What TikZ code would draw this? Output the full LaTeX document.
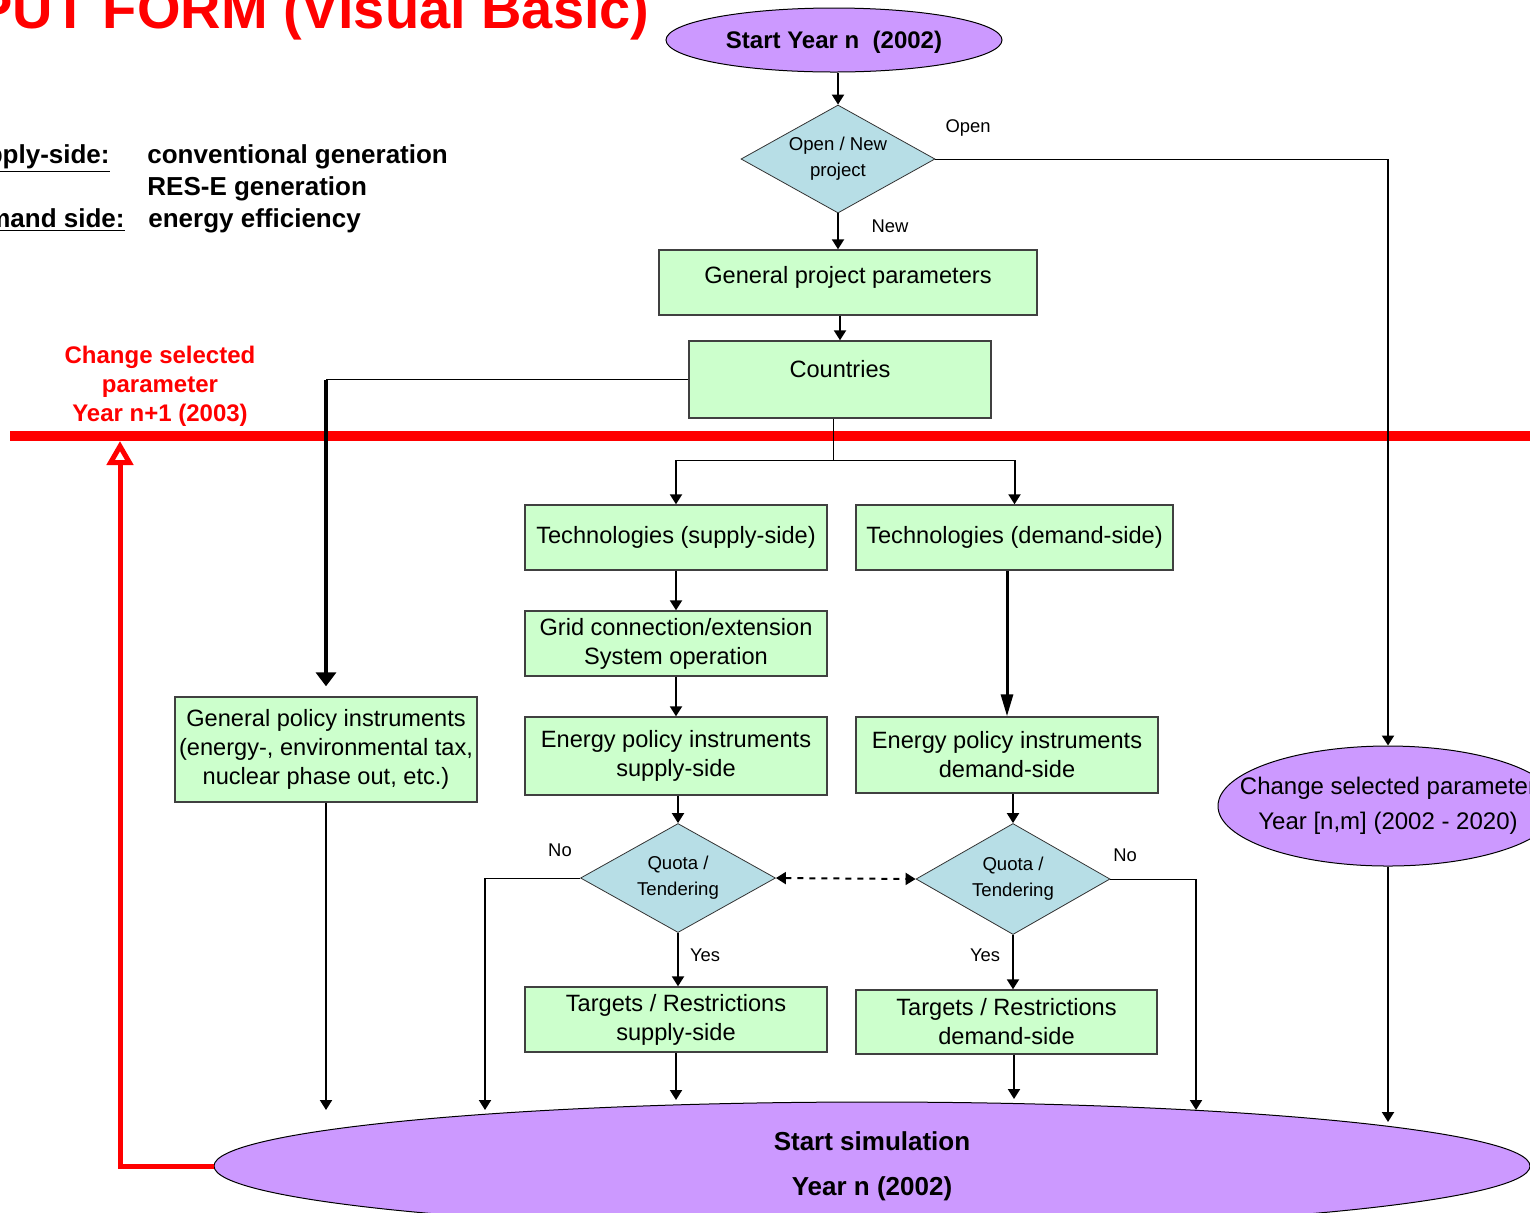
\documentclass[tikz,border=0pt]{standalone}
\usepackage{fontspec}
\setmainfont{Liberation Sans}
\usetikzlibrary{shapes.geometric,arrows.meta}

\definecolor{lila}{RGB}{204,153,255}
\definecolor{verde}{RGB}{204,255,204}
\definecolor{celeste}{RGB}{183,222,230}
\definecolor{rojo}{RGB}{255,0,0}

\tikzset{
  caja/.style={draw=black!75,line width=0.7pt,fill=verde,align=center,inner sep=0pt,
    font=\fontsize{11.8}{14.5}\selectfont},
  rombo/.style={diamond,aspect=1.8,draw=black!80,line width=0.4pt,fill=celeste,align=center,inner sep=0pt,
    font=\fontsize{9.3}{13}\selectfont},
  ovalo/.style={ellipse,draw=black,line width=0.5pt,fill=lila,align=center,inner sep=0pt},
  flecha/.style={line width=1pt,-{Triangle[width=6pt,length=5pt]}},
  flechaGruesa/.style={line width=1.5pt,-{Triangle[width=6pt,length=11pt]}},
  flechaGrande/.style={line width=2pt,-{Triangle[width=10pt,length=7pt]}},
  linea/.style={line width=0.5pt},
  etiq/.style={font=\fontsize{9.2}{11}\selectfont,inner sep=0pt},
  negrita/.style={font=\fontsize{13}{16}\selectfont\bfseries,inner sep=0pt},
}

\begin{document}
\begin{tikzpicture}[x=0.5pt,y=-0.5pt]
\def\esc{0.5pt};%escala de pixeles
\useasboundingbox (0,0) rectangle (1530,1212);

%Titulo y textos
\node[anchor=base east,text=rojo,font=\fontsize{28}{30}\selectfont\bfseries,inner sep=0pt] (titulo) at (650,28) {INPUT FORM (Visual Basic)};
\node[negrita,anchor=base east] (ladoOferta) at (110,163) {\underline{Supply-side:}};
\node[negrita,anchor=base west] (conv) at (147,163) {conventional generation};
\node[negrita,anchor=base west] (rese) at (147,195) {RES-E generation};
\node[negrita,anchor=base east] (ladoDemanda) at (125,227) {\underline{Demand side:}};
\node[negrita,anchor=base west] (efic) at (148,227) {energy efficiency};
\node[text=rojo,font=\fontsize{12}{14.5}\selectfont\bfseries,align=center,inner sep=0pt] (cambioAnual) at (160,386) {Change selected\\parameter\\Year n+1 (2003)};

%Linea roja
\draw[rojo,line width=5pt] (10,436) -- (1540,436);

%Nodos
\node[ovalo,minimum width=336*\esc,minimum height=64*\esc,text depth=0pt,font=\fontsize{12}{14}\selectfont\bfseries] (inicio) at (834,40) {Start Year n\ \ (2002)};
\node[rombo,minimum width=194*\esc,minimum height=108*\esc] (abrirNuevo) at (838,159) {Open / New\\project};
\node[caja,minimum width=378*\esc,minimum height=65*\esc,text depth=7.5pt] (parametros) at (848,282.5) {General project parameters};
\node[caja,minimum width=302*\esc,minimum height=77*\esc,text depth=11pt] (paises) at (840,379.5) {Countries};
\node[caja,minimum width=302*\esc,minimum height=65*\esc] (tecOferta) at (676,537.5) {Technologies (supply-side)};
\node[caja,minimum width=317*\esc,minimum height=65*\esc] (tecDemanda) at (1014.5,537.5) {Technologies (demand-side)};
\node[caja,minimum width=302*\esc,minimum height=65*\esc] (red) at (676,643.5) {Grid connection/extension\\System operation};
\node[caja,minimum width=302*\esc,minimum height=78*\esc] (polOferta) at (676,756) {Energy policy instruments\\supply-side};
\node[caja,minimum width=302*\esc,minimum height=76*\esc] (polDemanda) at (1007,755) {Energy policy instruments\\demand-side};
\node[rombo,minimum width=195*\esc,minimum height=109*\esc] (cuotaOferta) at (678,878) {Quota /\\Tendering};
\node[rombo,minimum width=194*\esc,minimum height=111*\esc] (cuotaDemanda) at (1013,879) {Quota /\\Tendering};
\node[caja,minimum width=302*\esc,minimum height=65*\esc] (metaOferta) at (676,1019.5) {Targets / Restrictions\\supply-side};
\node[caja,minimum width=301*\esc,minimum height=64*\esc] (metaDemanda) at (1006.5,1022) {Targets / Restrictions\\demand-side};
\node[caja,minimum width=302*\esc,minimum height=105*\esc] (polGeneral) at (326,749.5) {General policy instruments\\(energy-, environmental tax,\\nuclear phase out, etc.)};
\node[ovalo,minimum width=340*\esc,minimum height=120*\esc,font=\fontsize{12}{17.5}\selectfont] (cambioPar) at (1388,806) {\makebox[0pt]{Change selected parameter}\\\makebox[0pt]{Year [n,m] (2002 - 2020)}};
\node[ovalo,minimum width=1316*\esc,minimum height=128*\esc,font=\fontsize{13}{22.5}\selectfont\bfseries] (simulacion) at (872,1166) {Start simulation\\Year n (2002)};

%Etiquetas de las ramas
\foreach \nom/\x/\y/\txt in {lblAbrir/968/128/Open,lblNuevo/890/226/New,lblNo1/560/850/No,lblNo2/1125/855/No,lblSi1/705/955/Yes,lblSi2/985/955/Yes}{
    \node[etiq] (\nom) at (\x,\y) {\txt};
}

%Puntos finales sobre la simulacion
\foreach \n/\x/\y in {A/326/1110,B/485/1110,C/676/1100,D/1014/1099,E/1196/1110,F/1388/1122}{
    \coordinate (fin\n) at (\x,\y);
}
\coordinate (rama) at (833,460);
\coordinate (tope) at (120,441);

%Conectores
\draw[flecha] (inicio.south -| abrirNuevo.north) -- (abrirNuevo.north);
\draw[flecha] (abrirNuevo.south) -- (abrirNuevo.south |- parametros.north);
\draw[flecha] (paises.north |- parametros.south) -- (paises.north);
\draw[linea] (abrirNuevo.east) -- (abrirNuevo.east -| cambioPar.north);
\draw[flecha] (abrirNuevo.east -| cambioPar.north) -- (cambioPar.north);
\draw[linea] (paises.west) -- (paises.west -| polGeneral.north);
\draw[flechaGrande,shorten >=5pt] (paises.west -| polGeneral.north) -- (polGeneral.north);
\draw[linea] (paises.south -| rama) -- (rama);
\draw[linea] (tecOferta.north |- rama) -- (tecDemanda.north |- rama);
\draw[flecha] (tecOferta.north |- rama) -- (tecOferta.north);
\draw[flecha] (tecDemanda.north |- rama) -- (tecDemanda.north);
\draw[flecha] (tecOferta) -- (red);
\draw[flecha] (red) -- (polOferta);
\draw[flecha] (polOferta.south -| cuotaOferta.north) -- (cuotaOferta.north);
\draw[flecha] (cuotaOferta.south) -- (cuotaOferta.south |- metaOferta.north);
\draw[flechaGruesa] (tecDemanda.south -| polDemanda.north) -- (polDemanda.north);
\draw[flecha] (polDemanda.south -| cuotaDemanda.north) -- (cuotaDemanda.north);
\draw[flecha] (cuotaDemanda.south) -- (cuotaDemanda.south |- metaDemanda.north);
\draw[dashed,line width=1pt,{Triangle[width=6pt,length=5pt]}-{Triangle[width=6pt,length=5pt]}] (cuotaOferta.east) -- (cuotaDemanda.west);
\draw[linea] (cuotaOferta.west) -- (cuotaOferta.west -| finB);
\draw[flecha] (cuotaOferta.west -| finB) -- (finB);
\draw[linea] (cuotaDemanda.east) -- (cuotaDemanda.east -| finE);
\draw[flecha] (cuotaDemanda.east -| finE) -- (finE);
\draw[flecha] (polGeneral.south) -- (finA);
\draw[flecha] (metaOferta.south) -- (finC);
\draw[flecha] (metaDemanda.south -| finD) -- (finD);
\draw[flecha] (cambioPar.south) -- (finF);

%Regreso al anio siguiente
\draw[rojo,line width=2.5pt,-{Triangle[open,width=13pt,length=12pt]}] (simulacion.west) -| (tope);
\end{tikzpicture}
\end{document}
